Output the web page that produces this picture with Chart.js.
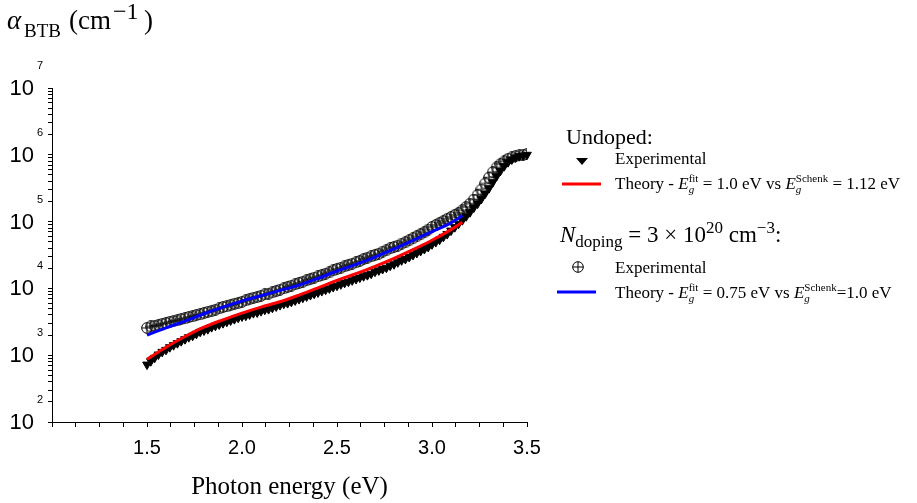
<!DOCTYPE html>
<html>
<head>
<meta charset="utf-8">
<script src="https://cdn.jsdelivr.net/npm/chart.js@4.4.0/dist/chart.umd.min.js"></script>
<style>
html, body { margin: 0; padding: 0; background: #fff; }
#wrap { width: 917px; height: 503px; }
</style>
</head>
<body>
<div id="wrap"><canvas id="btbChart" width="917" height="503"></canvas></div>
<script>
// photon energy grid of the measured spectra (eV)
var photonEnergy = [
    1.50, 1.52, 1.54, 1.56, 1.58, 1.60, 1.62, 1.64, 1.66, 1.68,
    1.70, 1.72, 1.74, 1.76, 1.78, 1.80, 1.82, 1.84, 1.86, 1.88,
    1.90, 1.92, 1.94, 1.96, 1.98, 2.00, 2.02, 2.04, 2.06, 2.08,
    2.10, 2.12, 2.14, 2.16, 2.18, 2.20, 2.22, 2.24, 2.26, 2.28,
    2.30, 2.32, 2.34, 2.36, 2.38, 2.40, 2.42, 2.44, 2.46, 2.48,
    2.50, 2.52, 2.54, 2.56, 2.58, 2.60, 2.62, 2.64, 2.66, 2.68,
    2.70, 2.72, 2.74, 2.76, 2.78, 2.80, 2.82, 2.84, 2.86, 2.88,
    2.90, 2.92, 2.94, 2.96, 2.98, 3.00, 3.02, 3.04, 3.06, 3.08,
    3.10, 3.12, 3.14, 3.16, 3.18, 3.20, 3.22, 3.24, 3.26, 3.28,
    3.30, 3.32, 3.34, 3.36, 3.38, 3.40, 3.42, 3.44, 3.46, 3.48,
    3.50
];

// undoped sample, measured alpha (cm^-1)
var undopedExpAlpha = [
    724, 813, 912, 1023, 1122, 1202, 1318, 1412, 1513, 1622,
    1738, 1862, 1949, 2089, 2239, 2344, 2454, 2630, 2754, 2884,
    3019, 3162, 3311, 3467, 3630, 3801, 3889, 4073, 4265, 4365,
    4570, 4786, 4897, 5128, 5369, 5623, 5888, 6025, 6308, 6606,
    6918, 7244, 7585, 7942, 8316, 8709, 9119, 9549, 1.00e4, 1.047e4,
    1.096e4, 1.15e4, 1.21e4, 1.26e4, 1.32e4, 1.38e4, 1.45e4, 1.52e4, 1.58e4, 1.66e4,
    1.78e4, 1.86e4, 1.95e4, 2.04e4, 2.19e4, 2.30e4, 2.46e4, 2.63e4, 2.76e4, 2.95e4,
    3.16e4, 3.39e4, 3.63e4, 3.89e4, 4.17e4, 4.57e4, 4.94e4, 5.36e4, 5.91e4, 6.51e4,
    7.33e4, 8.26e4, 9.30e4, 1.05e5, 1.20e5, 1.38e5, 1.62e5, 1.86e5, 2.19e5, 2.63e5,
    3.16e5, 3.89e5, 4.79e5, 5.75e5, 6.76e5, 7.76e5, 8.51e5, 9.12e5, 9.55e5, 9.77e5,
    1.00e6
];
// last undoped point sits just past the axis end
var undopedTailEnergy = [3.54];
var undopedTailAlpha = [1.02e6];

// doped sample (3e20 cm^-3), measured alpha (cm^-1)
var dopedExpAlpha = [
    2570, 2690, 2750, 2820, 2950, 3020, 3160, 3240, 3310, 3470,
    3550, 3720, 3800, 3980, 4070, 4270, 4470, 4570, 4790, 5010,
    5250, 5370, 5620, 5890, 6030, 6310, 6610, 6920, 7240, 7410,
    7760, 8130, 8320, 8710, 9120, 9550, 1.00e4, 1.05e4, 1.10e4, 1.15e4,
    1.20e4, 1.26e4, 1.32e4, 1.38e4, 1.45e4, 1.51e4, 1.58e4, 1.66e4, 1.74e4, 1.86e4,
    1.95e4, 2.04e4, 2.14e4, 2.24e4, 2.34e4, 2.45e4, 2.57e4, 2.75e4, 2.88e4, 3.02e4,
    3.16e4, 3.31e4, 3.55e4, 3.72e4, 3.98e4, 4.17e4, 4.37e4, 4.68e4, 4.90e4, 5.25e4,
    5.62e4, 6.03e4, 6.46e4, 6.92e4, 7.59e4, 8.32e4, 8.91e4, 9.55e4, 1.02e5, 1.10e5,
    1.17e5, 1.26e5, 1.35e5, 1.48e5, 1.66e5, 1.86e5, 2.14e5, 2.51e5, 3.02e5, 3.72e5,
    4.57e5, 5.50e5, 6.46e5, 7.24e5, 7.94e5, 8.71e5, 9.12e5, 9.55e5, 9.77e5, 1.00e6,
    1.02e6
];

// fitted theory curves
var theoryEnergy = [1.5, 1.6, 1.7, 1.8, 1.9, 2.0, 2.1, 2.2, 2.3, 2.4, 2.5, 2.6, 2.7, 2.8, 2.9, 3.0, 3.1, 3.16];
var undopedTheoryAlpha = [871, 1318, 1905, 2630, 3388, 4266, 5248, 6310, 7940, 1.02e4, 1.32e4, 1.66e4, 2.14e4, 2.82e4, 3.80e4, 5.25e4, 7.59e4, 9.77e4];
var dopedTheoryAlpha = [2000, 2570, 3240, 4170, 5250, 6460, 7760, 9330, 1.12e4, 1.41e4, 1.82e4, 2.29e4, 2.95e4, 3.89e4, 5.25e4, 7.08e4, 9.55e4, 1.23e5];

// axis ticks
var xTickValues = [1.0, 1.125, 1.25, 1.375, 1.5, 1.625, 1.75, 1.875, 2.0, 2.125, 2.25, 2.375, 2.5,
    2.625, 2.75, 2.875, 3.0, 3.125, 3.25, 3.375, 3.5];
var xTickLabels = ['1.5', '2.0', '2.5', '3.0', '3.5'];
var yDecades = [2, 3, 4, 5, 6, 7];

var serif = '"Liberation Serif", "Times New Roman", serif';
var sans = '"Liberation Sans", Arial, sans-serif';

function toPoints(xs, ys) {
    return xs.map(function (x, i) { return { x: x, y: ys[i] }; });
}

// circle with a plus inside, used for the doped data
function makeCirclePlus(size) {
    var c = document.createElement('canvas');
    c.width = size; c.height = size;
    var g = c.getContext('2d');
    var m = size / 2, r = size / 2 - 0.7;
    g.strokeStyle = '#000';
    g.lineWidth = 1;
    g.beginPath();
    g.arc(m, m, r, 0, Math.PI * 2);
    g.moveTo(m - r, m); g.lineTo(m + r, m);
    g.moveTo(m, m - r); g.lineTo(m, m + r);
    g.stroke();
    return c;
}

// text with italics, sub- and superscripts; a part may pin its own x
function drawRich(ctx, x, y, parts) {
    parts.forEach(function (p) {
        if (p.x !== undefined) x = p.x;
        if (p.stack) {
            ctx.font = p.size + 'px ' + serif;
            ctx.fillText(p.sup, x, y + p.supDy);
            ctx.font = 'italic ' + p.size + 'px ' + serif;
            ctx.fillText(p.sub, x, y + p.subDy);
            ctx.font = p.size + 'px ' + serif;
            x += Math.max(ctx.measureText(p.sup).width, ctx.measureText(p.sub).width);
        } else {
            ctx.font = (p.italic ? 'italic ' : '') + p.size + 'px ' + serif;
            ctx.fillText(p.t, x, y + (p.dy || 0));
            x += ctx.measureText(p.t).width;
        }
    });
    return x;
}

var decorations = {
    id: 'decorations',
    afterDraw: function (chart) {
        var ctx = chart.ctx;
        var yScale = chart.scales.y;
        ctx.save();
        ctx.fillStyle = '#000';

        // y tick labels written as 10 with a raised exponent
        yDecades.forEach(function (n) {
            var py = yScale.getPixelForValue(Math.pow(10, n));
            ctx.font = '22px ' + sans;
            ctx.textAlign = 'right';
            ctx.textBaseline = 'middle';
            ctx.fillText('10', 34, py + 1);
            ctx.font = '11px ' + sans;
            ctx.textAlign = 'center';
            ctx.fillText(String(n), 40, py - 22);
        });

        ctx.textAlign = 'left';
        ctx.textBaseline = 'alphabetic';

        // y axis title
        drawRich(ctx, 7, 29, [
            { t: 'α', size: 27, italic: true },
            { t: 'BTB', size: 19, dy: 8, x: 24 },
            { t: '(cm', size: 27, x: 69 },
            { t: '−1', size: 24, dy: -10, x: 113 },
            { t: ')', size: 27, x: 144 }
        ]);

        // legend
        var txt = 17, small = 11;
        drawRich(ctx, 566, 144, [{ t: 'Undoped:', size: 22 }]);
        ctx.beginPath();
        ctx.moveTo(576, 158); ctx.lineTo(588, 158); ctx.lineTo(582, 165);
        ctx.closePath();
        ctx.fill();
        drawRich(ctx, 615, 164, [{ t: 'Experimental', size: txt }]);
        ctx.strokeStyle = '#ff0000';
        ctx.lineWidth = 3;
        ctx.beginPath(); ctx.moveTo(562, 184); ctx.lineTo(601, 184); ctx.stroke();
        drawRich(ctx, 615, 189, [
            { t: 'Theory - ', size: txt },
            { t: 'E', size: txt, italic: true },
            { stack: true, sup: 'fit', sub: 'g', size: small, supDy: -7, subDy: 4 },
            { t: ' = 1.0 eV vs ', size: txt },
            { t: 'E', size: txt, italic: true },
            { stack: true, sup: 'Schenk', sub: 'g', size: small, supDy: -7, subDy: 4 },
            { t: ' = 1.12 eV', size: txt }
        ]);

        drawRich(ctx, 560, 242, [
            { t: 'N', size: 23, italic: true },
            { t: 'doping', size: 17, dy: 5 },
            { t: ' = 3 × 10', size: 23 },
            { t: '20', size: 17, dy: -9 },
            { t: ' cm', size: 23 },
            { t: '−3', size: 17, dy: -9 },
            { t: ':', size: 23 }
        ]);
        ctx.drawImage(makeCirclePlus(12), 572, 261);
        drawRich(ctx, 615, 273, [{ t: 'Experimental', size: txt }]);
        ctx.strokeStyle = '#0000ff';
        ctx.beginPath(); ctx.moveTo(557, 292); ctx.lineTo(596, 292); ctx.stroke();
        drawRich(ctx, 615, 298, [
            { t: 'Theory - ', size: txt },
            { t: 'E', size: txt, italic: true },
            { stack: true, sup: 'fit', sub: 'g', size: small, supDy: -7, subDy: 4 },
            { t: ' = 0.75 eV vs ', size: txt },
            { t: 'E', size: txt, italic: true },
            { stack: true, sup: 'Schenk', sub: 'g', size: small, supDy: -7, subDy: 4 },
            { t: '=1.0 eV', size: txt }
        ]);
        ctx.restore();
    }
};

var yTickValues = [];
yDecades.forEach(function (n) {
    for (var k = 1; k <= 9; k++) {
        if (n === 7 && k > 1) break;
        yTickValues.push(k * Math.pow(10, n));
    }
});

new Chart(document.getElementById('btbChart'), {
    type: 'scatter',
    data: {
        datasets: [{
            label: 'Theory doped',
            type: 'line',
            data: toPoints(theoryEnergy, dopedTheoryAlpha),
            borderColor: '#0000ff',
            borderWidth: 3,
            pointRadius: 0,
            showLine: true,
            cubicInterpolationMode: 'monotone',
            order: 0
        }, {
            label: 'Theory undoped',
            type: 'line',
            data: toPoints(theoryEnergy, undopedTheoryAlpha),
            borderColor: '#ff0000',
            borderWidth: 3,
            pointRadius: 0,
            showLine: true,
            cubicInterpolationMode: 'monotone',
            order: 1
        }, {
            label: 'Experimental doped',
            data: toPoints(photonEnergy, dopedExpAlpha),
            pointStyle: makeCirclePlus(12),
            pointRadius: 6,
            order: 2
        }, {
            label: 'Experimental undoped',
            data: toPoints(photonEnergy.concat(undopedTailEnergy), undopedExpAlpha.concat(undopedTailAlpha)),
            pointStyle: 'triangle',
            rotation: 180,
            pointRadius: 5,
            backgroundColor: '#000',
            borderColor: '#000',
            borderWidth: 1,
            clip: false,
            order: 3
        }]
    },
    options: {
        responsive: false,
        animation: false,
        devicePixelRatio: 1,
        layout: { padding: { left: 0, top: 88, right: 390, bottom: 0 } },
        plugins: { legend: { display: false }, tooltip: { enabled: false } },
        scales: {
            x: {
                type: 'linear',
                min: 1.0,
                max: 3.5,
                afterBuildTicks: function (scale) {
                    scale.ticks = xTickValues.map(function (v) { return { value: v }; });
                },
                afterFit: function (scale) { scale.height = 81; },
                ticks: {
                    autoSkip: false,
                    maxRotation: 0,
                    padding: 9,
                    color: '#000',
                    font: { family: sans, size: 20 },
                    callback: function (v) {
                        var s = v.toFixed(1);
                        return (Math.abs(v * 2 - Math.round(v * 2)) < 1e-6 && xTickLabels.indexOf(s) >= 0) ? s : '';
                    }
                },
                grid: { drawOnChartArea: false, drawTicks: true, tickLength: 5, color: '#000' },
                border: { display: true, color: '#000', width: 1 },
                title: {
                    display: true,
                    text: 'Photon energy (eV)',
                    color: '#000',
                    font: { family: serif, size: 25 },
                    padding: { top: 0, bottom: 1 }
                }
            },
            y: {
                type: 'logarithmic',
                min: 100,
                max: 1e7,
                afterBuildTicks: function (scale) {
                    scale.ticks = yTickValues.map(function (v) { return { value: v }; });
                },
                afterFit: function (scale) { scale.width = 52; },
                ticks: { autoSkip: false, callback: function () { return ''; } },
                grid: { drawOnChartArea: false, drawTicks: true, tickLength: 4, color: '#000' },
                border: { display: true, color: '#000', width: 1 }
            }
        }
    },
    plugins: [decorations]
});
</script>
</body>
</html>
